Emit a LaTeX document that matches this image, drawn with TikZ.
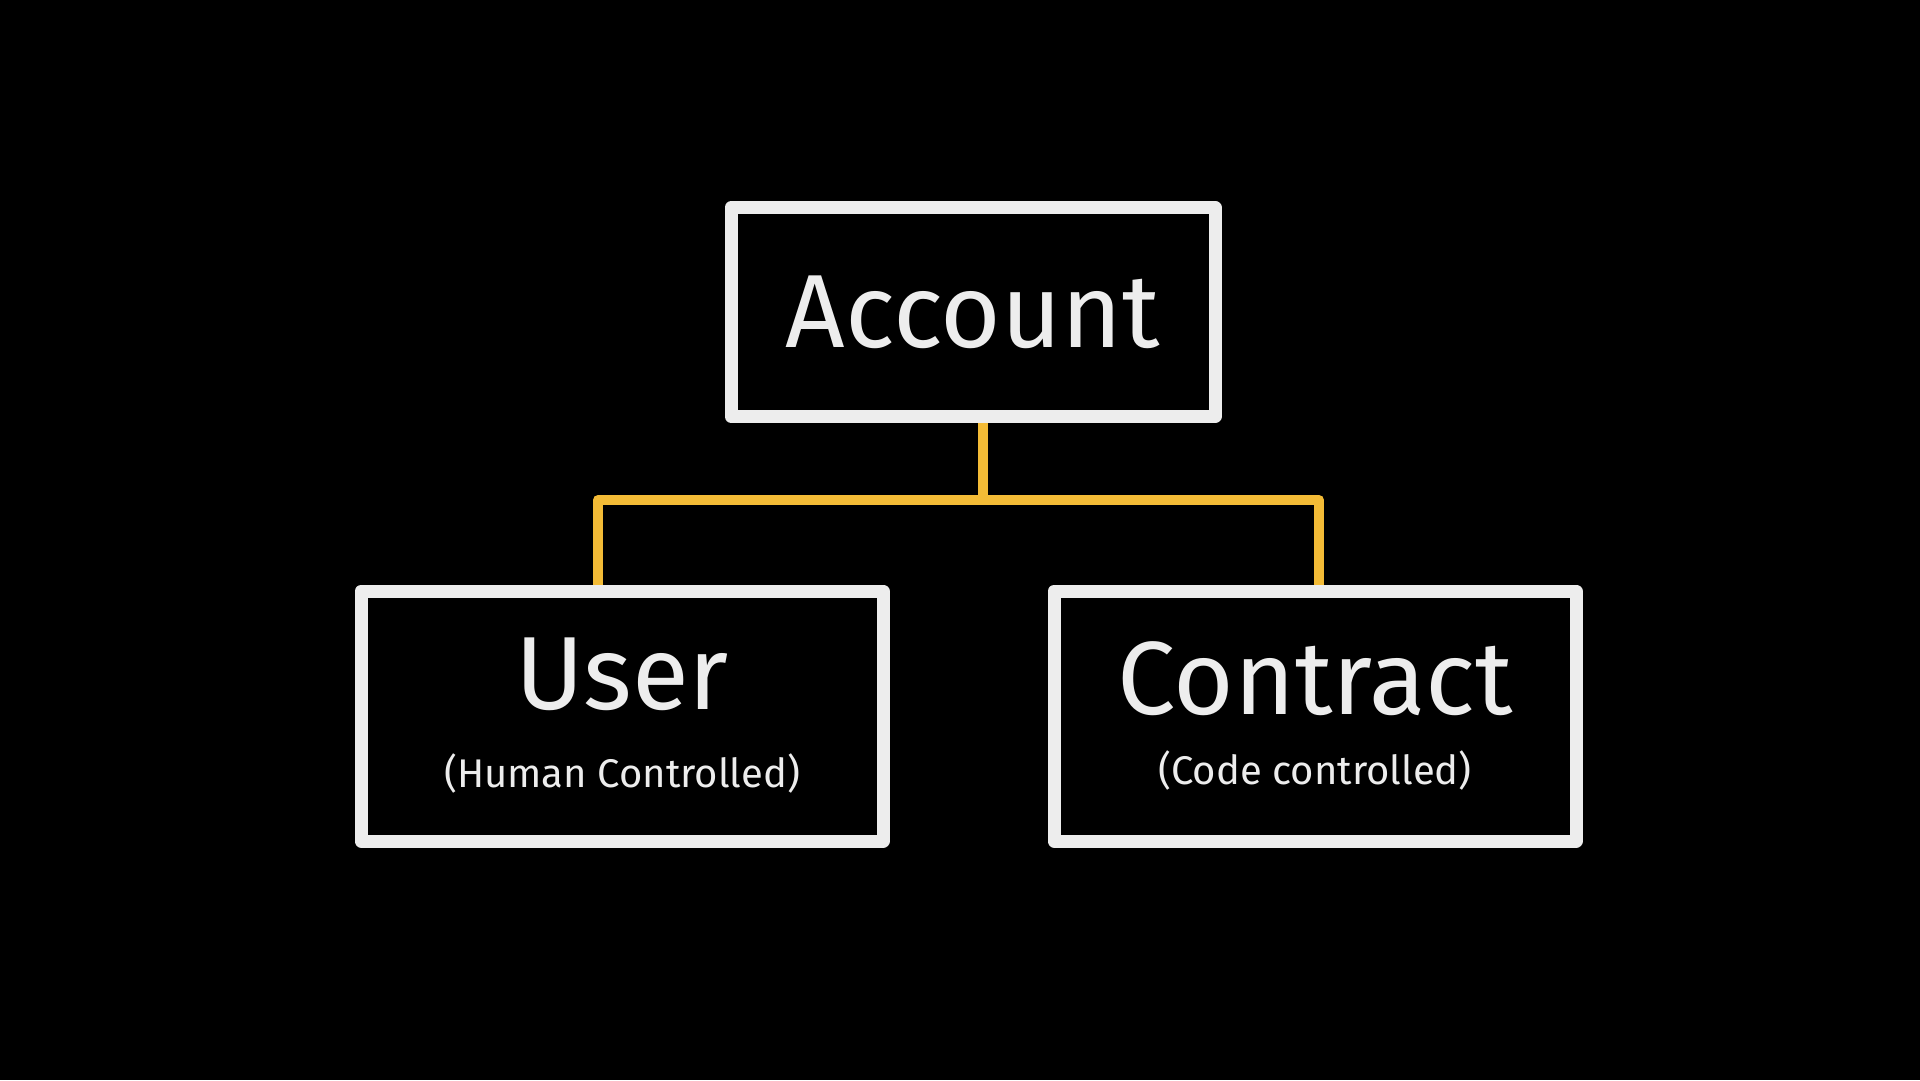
\documentclass[tikz,border=0pt]{standalone}
\usepackage{fontspec}
\setmainfont{Fira Sans}
\usetikzlibrary{calc}
\definecolor{chalk}{HTML}{EDEDED}
\definecolor{chalkgold}{HTML}{F3BB36}
\tikzset{
  board/.style={draw=chalk, text=chalk, line width=13pt, line join=round, align=center, inner sep=0pt},
  link/.style={draw=chalkgold, line width=10pt, line join=round}
}
\newcommand{\bigword}[1]{{\fontsize{104}{110}\selectfont #1}}
\newcommand{\smallword}[1]{{\fontsize{40}{48}\selectfont #1}}
\begin{document}
\begin{tikzpicture}[x=1pt,y=-1pt]
  \fill[black] (0,0) rectangle (1920,1080);
  % boxes
  \node [board, minimum width=484pt, minimum height=209pt] (account) at (973,312) {\bigword{Account}};
  \node [board, minimum width=522pt, minimum height=250pt] (user) at (622,716) {\bigword{User}\\[42pt]\smallword{(Human Controlled)}};
  \node [board, minimum width=522pt, minimum height=250pt] (contract) at (1315,716) {\bigword{Contract}\\[34pt]\smallword{(Code controlled)}};
  % tree
  \coordinate (fork) at (983,500);
  \draw [link] (account.south -| fork) -- (fork);
  \draw [link] (fork) -| ($(user.north)+(-24,0)$);
  \draw [link] (fork) -| ($(contract.north)+(4,0)$);
\end{tikzpicture}
\end{document}
